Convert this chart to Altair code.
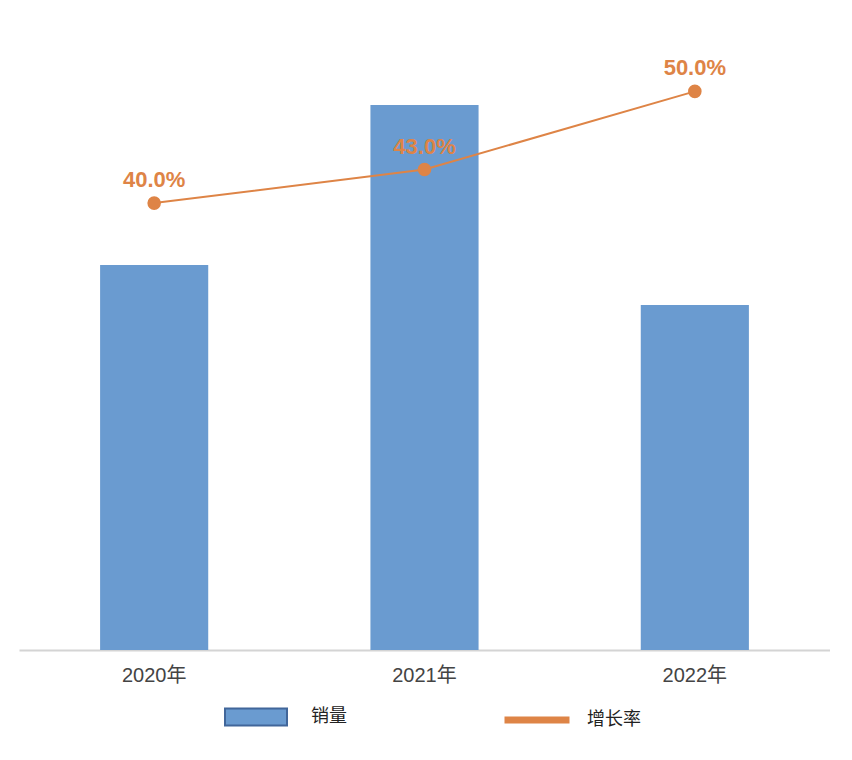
import altair as alt
import pandas as pd

years = ["2020年", "2021年", "2022年"]
sales = [385, 545, 345]
growth = [0.40, 0.43, 0.50]
growth_labels = ["40.0%", "43.0%", "50.0%"]
series_bar = "销量"
series_line = "增长率"

df = pd.DataFrame({
    "year": years,
    "sales": sales,
    "growth": growth,
    "label": growth_labels,
    "s1": series_bar,
    "s2": series_line,
})

FONT = "Liberation Sans, Noto Sans CJK SC, sans-serif"
BLUE = "#6A9BD0"
ORANGE = "#DE8446"

x = alt.X(
    "year:N", sort=years,
    axis=alt.Axis(title=None, labelAngle=0, labelFontSize=20, labelColor="#444444",
                  labelFont=FONT, domainColor="#d4d4d4", domainWidth=2, ticks=False,
                  labelPadding=15),
    scale=alt.Scale(paddingInner=0.6, paddingOuter=0.3),
)

bars = alt.Chart(df).mark_bar().encode(
    x=x,
    y=alt.Y("sales:Q", scale=alt.Scale(domain=[0, 600]), axis=None),
    fill=alt.Fill("s1:N", scale=alt.Scale(domain=[series_bar], range=[BLUE]),
                  legend=alt.Legend(title=None, orient="none", legendX=205, legendY=635,
                                    symbolType="M-1,-0.274H1V0.274H-1Z", symbolSize=3844,
                                    symbolStrokeColor="#41669A", symbolStrokeWidth=2,
                                    labelFontSize=18, labelFont=FONT, labelColor="#222222",
                                    labelOffset=23)),
)

line = alt.Chart(df).mark_line(
    strokeWidth=2,
    point=alt.OverlayMarkDef(filled=True, fill=ORANGE, size=185, strokeWidth=0),
).encode(
    x=x,
    y=alt.Y("growth:Q", scale=alt.Scale(domain=[0, 0.537]), axis=None),
    stroke=alt.Stroke("s2:N", scale=alt.Scale(domain=[series_line], range=[ORANGE]),
                      legend=alt.Legend(title=None, orient="none", legendX=482, legendY=634,
                                        symbolType="stroke", symbolSize=4225,
                                        symbolStrokeWidth=7,
                                        labelFontSize=18, labelFont=FONT, labelColor="#222222",
                                        labelOffset=14)),
)

text = alt.Chart(df).mark_text(
    dy=-23, fontSize=22, fontWeight="bold", color=ORANGE, font=FONT
).encode(
    x=x,
    y=alt.Y("growth:Q", scale=alt.Scale(domain=[0, 0.537]), axis=None),
    text="label:N",
)

chart = alt.layer(bars, line, text).resolve_scale(y="independent").properties(
    width=811, height=600,
    padding={"left": 11, "top": 42, "right": 0, "bottom": 0},
    background="white",
).configure_view(stroke=None)

chart.save("out.html", embed_options={"renderer": "svg", "actions": False})
